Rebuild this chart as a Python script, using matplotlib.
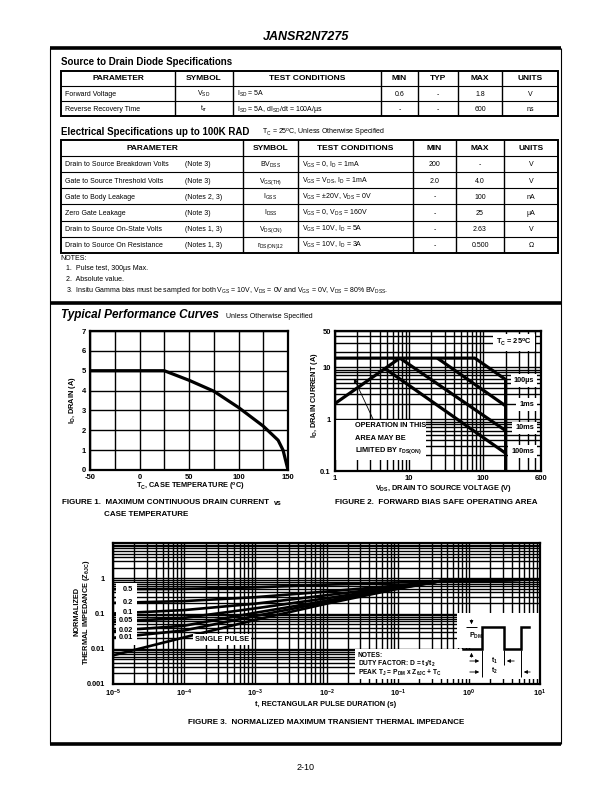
import numpy as np
import matplotlib
matplotlib.use('agg')
import matplotlib.pyplot as plt
from matplotlib.patches import Rectangle
from matplotlib.ticker import LogLocator, NullFormatter

plt.rcParams['font.family'] = ['Liberation Sans', 'DejaVu Sans']
plt.rcParams['mathtext.fontset'] = 'custom'
plt.rcParams['mathtext.rm'] = 'Liberation Sans'
plt.rcParams['mathtext.it'] = 'Liberation Sans:italic'
plt.rcParams['mathtext.bf'] = 'Liberation Sans:bold'

# ---------------- data ----------------
# source to drain diode table
diode_header = ['PARAMETER', 'SYMBOL', 'TEST CONDITIONS', 'MIN', 'TYP', 'MAX', 'UNITS']
diode_params = ['Forward Voltage', 'Reverse Recovery Time']
diode_symbols = [r'V$_\mathrm{SD}$', r't$_\mathrm{rr}$']
diode_cond = [r'I$_\mathrm{SD}$ = 5A', r'I$_\mathrm{SD}$ = 5A, dI$_\mathrm{SD}$/dt = 100A/µs']
diode_min = ['0.6', '-']
diode_typ = ['-', '-']
diode_max = ['1.8', '600']
diode_units = ['V', 'ns']

# electrical specs table
elec_header = ['PARAMETER', 'SYMBOL', 'TEST CONDITIONS', 'MIN', 'MAX', 'UNITS']
elec_params = ['Drain to Source Breakdown Volts', 'Gate to Source Threshold Volts',
               'Gate to Body Leakage', 'Zero Gate Leakage',
               'Drain to Source On-State Volts', 'Drain to Source On Resistance']
elec_notes = ['(Note 3)', '(Note 3)', '(Notes 2, 3)', '(Note 3)', '(Notes 1, 3)', '(Notes 1, 3)']
elec_symbols = [r'BV$_\mathrm{DSS}$', r'V$_\mathrm{GS(TH)}$', r'I$_\mathrm{GSS}$',
                r'I$_\mathrm{DSS}$', r'V$_\mathrm{DS(ON)}$', r'r$_\mathrm{DS(ON)12}$']
elec_cond = [r'V$_\mathrm{GS}$ = 0, I$_\mathrm{D}$ = 1mA',
             r'V$_\mathrm{GS}$ = V$_\mathrm{DS}$, I$_\mathrm{D}$ = 1mA',
             r'V$_\mathrm{GS}$ = ±20V, V$_\mathrm{DS}$ = 0V',
             r'V$_\mathrm{GS}$ = 0, V$_\mathrm{DS}$ = 160V',
             r'V$_\mathrm{GS}$ = 10V, I$_\mathrm{D}$ = 5A',
             r'V$_\mathrm{GS}$ = 10V, I$_\mathrm{D}$ = 3A']
elec_min = ['200', '2.0', '-', '-', '-', '-']
elec_max = ['-', '4.0', '100', '25', '2.63', '0.500']
elec_units = ['V', 'V', 'nA', 'µA', 'V', 'Ω']

notes = ['1.  Pulse test, 300µs Max.',
         '2.  Absolute value.',
         r'3.  Insitu Gamma bias must be sampled for both V$_\mathrm{GS}$ = 10V, V$_\mathrm{DS}$ = 0V and '
         r'V$_\mathrm{GS}$ = 0V, V$_\mathrm{DS}$ = 80% BV$_\mathrm{DSS}$.']

# figure 1: drain current vs case temperature
case_temp = [-50, 25, 50, 75, 100, 125, 140, 145, 150]
drain_amps = [5.0, 5.0, 4.52, 3.97, 3.15, 2.21, 1.5, 1.0, 0.0]

# figure 2: safe operating area
limit_v = [1, 77, 200, 200]
limit_i = [15, 15, 5.8, 0.1]
rds_v = [1, 7.5]
rds_i = [2, 15]
soa_1ms_v = [24, 200]
soa_1ms_i = [15, 1.8]
soa_10ms_v = [7.5, 200]
soa_10ms_i = [15, 0.6]
soa_100ms_v = [4.7, 200]
soa_100ms_i = [9.5, 0.22]
soa_labels = ['100µs', '1ms', '10ms', '100ms']
soa_label_i = [5.5, 1.9, 0.68, 0.235]

# figure 3: transient thermal impedance
pulse_t = [1e-5, 1e-4, 1e-3, 1e-2, 1e-1, 4e-1, 10]
zth_d050 = [0.49, 0.50, 0.55, 0.66, 0.76, 0.83, 0.93]
zth_d020 = [0.20, 0.225, 0.29, 0.42, 0.62, 0.83, 0.93]
zth_d010 = [0.10, 0.125, 0.19, 0.33, 0.58, 0.83, 0.93]
zth_d005 = [0.058, 0.075, 0.14, 0.27, 0.55, 0.83, 0.93]
zth_d002 = [0.032, 0.045, 0.105, 0.23, 0.53, 0.83, 0.93]
zth_d001 = [0.0205, 0.033, 0.085, 0.21, 0.52, 0.83, 0.93]
zth_single = [0.0065, 0.021, 0.066, 0.19, 0.50, 0.83, 0.93]
duty_labels = ['0.5', '0.2', '0.1', '0.05', '0.02', '0.01']

# ---------------- figure ----------------
W, H = 612, 792
fig = plt.figure(figsize=(W / 100, H / 100), dpi=100)


def px_axes(x0, y0, x1, y1):
    return fig.add_axes([x0 / W, 1 - y1 / H, (x1 - x0) / W, (y1 - y0) / H])


def style_axes(ax, size=5.5):
    ax.grid(True, which='both', color='black', lw=1.0)
    ax.tick_params(which='both', length=0, labelsize=size, pad=3)
    for s in ax.spines.values():
        s.set_linewidth(1.6)
        s.set_zorder(6)


# Figure 1
ax1 = px_axes(90, 331, 288, 470)
ax1.plot(case_temp, drain_amps, color='black', lw=2.3, zorder=3)
ax1.set_xlim(-50, 150)
ax1.set_ylim(0, 7)
ax1.set_xticks([-50, 0, 50, 100, 150], ['-50', '0', '50', '100', '150'], fontweight='bold')
ax1.set_xticks(np.arange(-50, 151, 25), minor=True)
ax1.set_yticks(range(8), [str(v) for v in range(8)], fontweight='bold')
style_axes(ax1)

# Figure 2
ax2 = px_axes(335, 331, 541, 471)
ax2.set_xscale('log')
ax2.set_yscale('log')
ax2.set_xlim(1, 600)
ax2.set_ylim(0.1, 50)
for vv, ii in [(limit_v, limit_i), (rds_v, rds_i), (soa_1ms_v, soa_1ms_i),
               (soa_10ms_v, soa_10ms_i), (soa_100ms_v, soa_100ms_i)]:
    ax2.plot(vv, ii, color='black', lw=2.3, zorder=3, solid_capstyle='butt')
ax2.set_xticks([1, 10, 100, 600], ['1', '10', '100', '600'], fontweight='bold')
ax2.set_yticks([0.1, 1, 10, 50], ['0.1', '1', '10', '50'], fontweight='bold')
ax2.xaxis.set_minor_locator(LogLocator(base=10, subs=np.arange(2, 10)))
ax2.yaxis.set_minor_locator(LogLocator(base=10, subs=np.arange(2, 10)))
ax2.xaxis.set_minor_formatter(NullFormatter())
ax2.yaxis.set_minor_formatter(NullFormatter())
style_axes(ax2)
ax2.add_patch(Rectangle((1, 0.16), 16, 0.79, facecolor='white', edgecolor='none', zorder=4))
for k, lab in enumerate(['OPERATION IN THIS', 'AREA MAY BE', r'LIMITED BY r$_\mathbf{DS(ON)}$']):
    ax2.text(1.85, [0.74, 0.42, 0.25][k], lab, fontsize=5.3, fontweight='bold', va='center', zorder=5)
ax2.annotate('', xy=(1.74, 6.8), xytext=(3.4, 0.88),
             arrowprops=dict(arrowstyle='-|>', color='black', lw=0.6, mutation_scale=6), zorder=5)
for lab, yi in zip(soa_labels, soa_label_i):
    ax2.text(480, yi, lab, fontsize=5.3, fontweight='bold', ha='right', va='center', zorder=5,
             bbox=dict(facecolor='white', edgecolor='none', pad=2.0))
ax2.text(259, 29.7, r'T$_\mathbf{C}$ = 25$^\mathbf{o}$C', fontsize=5.3, fontweight='bold',
         ha='center', va='center', zorder=5, bbox=dict(facecolor='white', edgecolor='none', pad=2.0))

# Figure 3
ax3 = px_axes(113, 543, 540, 684)
ax3.set_xscale('log')
ax3.set_yscale('log')
ax3.set_xlim(1e-5, 10)
ax3.set_ylim(1e-3, 10)
for z in [zth_d050, zth_d020, zth_d010, zth_d005, zth_d002, zth_d001, zth_single]:
    ax3.plot(pulse_t, z, color='black', lw=1.9, zorder=3)
ax3.set_xticks([1e-5, 1e-4, 1e-3, 1e-2, 1e-1, 1, 10],
               [r'$\mathbf{10^{%d}}$' % e for e in range(-5, 2)], fontweight='bold')
ax3.set_yticks([1e-3, 1e-2, 1e-1, 1], ['0.001', '0.01', '0.1', '1'], fontweight='bold')
ax3.xaxis.set_minor_locator(LogLocator(base=10, subs=np.arange(2, 10), numticks=20))
ax3.yaxis.set_minor_locator(LogLocator(base=10, subs=np.arange(2, 10), numticks=20))
ax3.xaxis.set_minor_formatter(NullFormatter())
ax3.yaxis.set_minor_formatter(NullFormatter())
style_axes(ax3, 5.3)
ax3.tick_params(axis='y', pad=6)
ax3.add_patch(Rectangle((1.1e-5, 0.0125), 1.05e-5, 0.74, facecolor='white', edgecolor='none', zorder=4))
label_y = [0.49, 0.21, 0.11, 0.062, 0.033, 0.0205]
for lab, yv in zip(duty_labels, label_y):
    ax3.text(1.9e-5, yv, lab, fontsize=5.3, fontweight='bold', ha='right', va='center', zorder=5)
ax3.text(3.4e-4, 0.018, 'SINGLE PULSE', fontsize=5.3, fontweight='bold', ha='center', va='center',
         zorder=5, bbox=dict(facecolor='white', edgecolor='none', pad=1.5))
ax3.add_patch(Rectangle((0.025, 0.0014), 10, 0.0083, facecolor='white', edgecolor='none', zorder=4))
ax3.add_patch(Rectangle((0.68, 0.0104), 10, 0.09, facecolor='white', edgecolor='none', zorder=4))
ax3.add_patch(Rectangle((1.5, 0.0095), 10, 0.0012, facecolor='white', edgecolor='none', zorder=4))

# ---------------- page overlay ----------------
page = fig.add_axes([0, 0, 1, 1])
page.set_xlim(0, W)
page.set_ylim(H, 0)
page.axis('off')
page.patch.set_visible(False)


def hline(y, x0, x1, lw):
    page.plot([x0, x1], [y, y], color='black', lw=lw, solid_capstyle='butt')


def vline(x, y0, y1, lw):
    page.plot([x, x], [y0, y1], color='black', lw=lw, solid_capstyle='butt')


page.text(306, 37, 'JANSR2N7275', fontsize=9, fontweight='bold', style='italic', ha='center', va='center')
hline(48, 50, 561, 2.6)
hline(303, 50, 561, 2.6)
hline(744, 50, 561, 2.6)
vline(50, 48, 744, 0.8)
vline(561, 48, 744, 0.8)


def draw_grid(xs, ys):
    page.add_patch(Rectangle((xs[0], ys[0]), xs[-1] - xs[0], ys[-1] - ys[0],
                             fill=False, lw=1.4, ec='black'))
    for x in xs[1:-1]:
        vline(x, ys[0], ys[-1], 1.0)
    for y in ys[1:-1]:
        hline(y, xs[0], xs[-1], 0.8)


def cell(x, y, s, ha='center', size=5):
    page.text(x, y + 2.3, s, fontsize=size, ha=ha, va='baseline')


# table 1
page.text(61, 62, 'Source to Drain Diode Specifications', fontsize=7, fontweight='bold', va='center')
xs1 = [61, 175, 233, 381, 418, 458, 502, 558]
ys1 = [71, 86, 101, 116]
draw_grid(xs1, ys1)
for j, h in enumerate(diode_header):
    page.text((xs1[j] + xs1[j + 1]) / 2, (ys1[0] + ys1[1]) / 2 + 0.5, h, fontsize=6,
              fontweight='bold', ha='center', va='center')
for i in range(len(diode_params)):
    yc = (ys1[i + 1] + ys1[i + 2]) / 2
    cell(xs1[0] + 4, yc, diode_params[i], 'left')
    cell((xs1[1] + xs1[2]) / 2, yc, diode_symbols[i])
    cell(xs1[2] + 4, yc, diode_cond[i], 'left')
    for j, col in zip(range(3, 7), [diode_min, diode_typ, diode_max, diode_units]):
        cell((xs1[j] + xs1[j + 1]) / 2, yc, col[i])

# table 2
page.text(61, 132, 'Electrical Specifications up to 100K RAD', fontsize=7, fontweight='bold', va='center')
page.text(262, 133, r'T$_\mathrm{C}$ = 25$^\mathrm{o}$C, Unless Otherwise Specified', fontsize=5, va='center')
xs2 = [61, 243, 298, 413, 456, 504, 558]
ys2 = 140 + 16.1 * np.arange(8)
draw_grid(xs2, ys2)
for j, h in enumerate(elec_header):
    page.text((xs2[j] + xs2[j + 1]) / 2, (ys2[0] + ys2[1]) / 2 + 0.5, h, fontsize=6,
              fontweight='bold', ha='center', va='center')
for i in range(len(elec_params)):
    yc = (ys2[i + 1] + ys2[i + 2]) / 2
    cell(xs2[0] + 4, yc, elec_params[i], 'left')
    cell(185, yc, elec_notes[i], 'left')
    cell((xs2[1] + xs2[2]) / 2, yc, elec_symbols[i])
    cell(xs2[2] + 4, yc, elec_cond[i], 'left')
    for j, col in zip(range(3, 6), [elec_min, elec_max, elec_units]):
        cell((xs2[j] + xs2[j + 1]) / 2, yc, col[i])

page.text(60, 258, 'NOTES:', fontsize=5, va='center')
for k, n in enumerate(notes):
    page.text(66, 268.5 + 11 * k, n, fontsize=5, va='center')

page.text(61, 315, 'Typical Performance Curves', fontsize=8.5, fontweight='bold', style='italic', va='center')
page.text(226, 316, 'Unless Otherwise Specified', fontsize=5, va='center')

# figure 1 labels
page.text(72, 400, r'I$_\mathbf{D}$, DRAIN (A)', fontsize=5.3, fontweight='bold', rotation=90,
          ha='center', va='center')
page.text(190, 487, r'T$_\mathbf{C}$, CASE TEMPERATURE ($^\mathbf{o}$C)', fontsize=5.3,
          fontweight='bold', ha='center', va='center')
page.text(62, 503, 'FIGURE 1.  MAXIMUM CONTINUOUS DRAIN CURRENT', fontsize=5.8, fontweight='bold', va='center')
page.text(274, 503.5, 'vs', fontsize=5, fontweight='bold', va='center')
page.text(104, 514, 'CASE TEMPERATURE', fontsize=5.8, fontweight='bold', va='center')

# figure 2 labels
page.text(315, 395, r'I$_\mathbf{D}$, DRAIN CURRENT (A)', fontsize=5.3, fontweight='bold', rotation=90,
          ha='center', va='center')
page.text(444, 488, r'V$_\mathbf{DS}$, DRAIN TO SOURCE VOLTAGE (V)', fontsize=5.3, fontweight='bold',
          ha='center', va='center')
page.text(436, 503, 'FIGURE 2.  FORWARD BIAS SAFE OPERATING AREA', fontsize=5.8, fontweight='bold',
          ha='center', va='center')

# figure 3 labels
page.text(77, 612, 'NORMALIZED', fontsize=5.3, fontweight='bold', rotation=90, ha='center', va='center')
page.text(86, 612, r'THERMAL IMPEDANCE (Z$_\mathbf{θJC}$)', fontsize=5.3, fontweight='bold', rotation=90,
          ha='center', va='center')
page.text(326, 705, 't, RECTANGULAR PULSE DURATION (s)', fontsize=5.3, fontweight='bold',
          ha='center', va='center')
page.text(326, 722, 'FIGURE 3.  NORMALIZED MAXIMUM TRANSIENT THERMAL IMPEDANCE', fontsize=5.8,
          fontweight='bold', ha='center', va='center')

# figure 3 notes and pulse diagram
page.text(358, 655.5, 'NOTES:', fontsize=4.8, fontweight='bold', va='center')
page.text(358, 663.5, r'DUTY FACTOR: D = t$_\mathbf{1}$/t$_\mathbf{2}$', fontsize=4.8, fontweight='bold',
          va='center')
page.text(358, 672.5, r'PEAK T$_\mathbf{J}$ = P$_\mathbf{DM}$ x Z$_\mathbf{θJC}$ + T$_\mathbf{C}$', fontsize=4.8,
          fontweight='bold', va='center')
page.plot([463, 482, 482, 504, 504, 521, 521, 529], [649, 649, 627, 627, 649, 649, 627, 627],
          color='black', lw=1.8, solid_joinstyle='miter')
hline(627, 466, 477, 0.7)
page.text(469, 636, r'P$_\mathbf{DM}$', fontsize=5, fontweight='bold', va='center')
arrow = dict(arrowstyle='-|>', color='black', lw=0.6, mutation_scale=5)
page.annotate('', xy=(471.5, 627), xytext=(471.5, 617), arrowprops=arrow)
page.annotate('', xy=(471.5, 650), xytext=(471.5, 660), arrowprops=arrow)
vline(482, 650, 677, 0.7)
vline(504, 650, 665, 0.7)
vline(521, 650, 677, 0.7)
page.annotate('', xy=(482, 661), xytext=(467, 661), arrowprops=arrow)
page.annotate('', xy=(504, 661), xytext=(517, 661), arrowprops=arrow)
page.annotate('', xy=(482, 672), xytext=(467, 672), arrowprops=arrow)
page.annotate('', xy=(521, 672), xytext=(533, 672), arrowprops=arrow)
page.text(491, 660.5, r't$_\mathbf{1}$', fontsize=4.8, fontweight='bold', va='center')
page.text(491, 671, r't$_\mathbf{2}$', fontsize=4.8, fontweight='bold', va='center')

page.text(306, 768, '2-10', fontsize=6.5, ha='center', va='center')

fig.savefig('out.png', dpi=100)
